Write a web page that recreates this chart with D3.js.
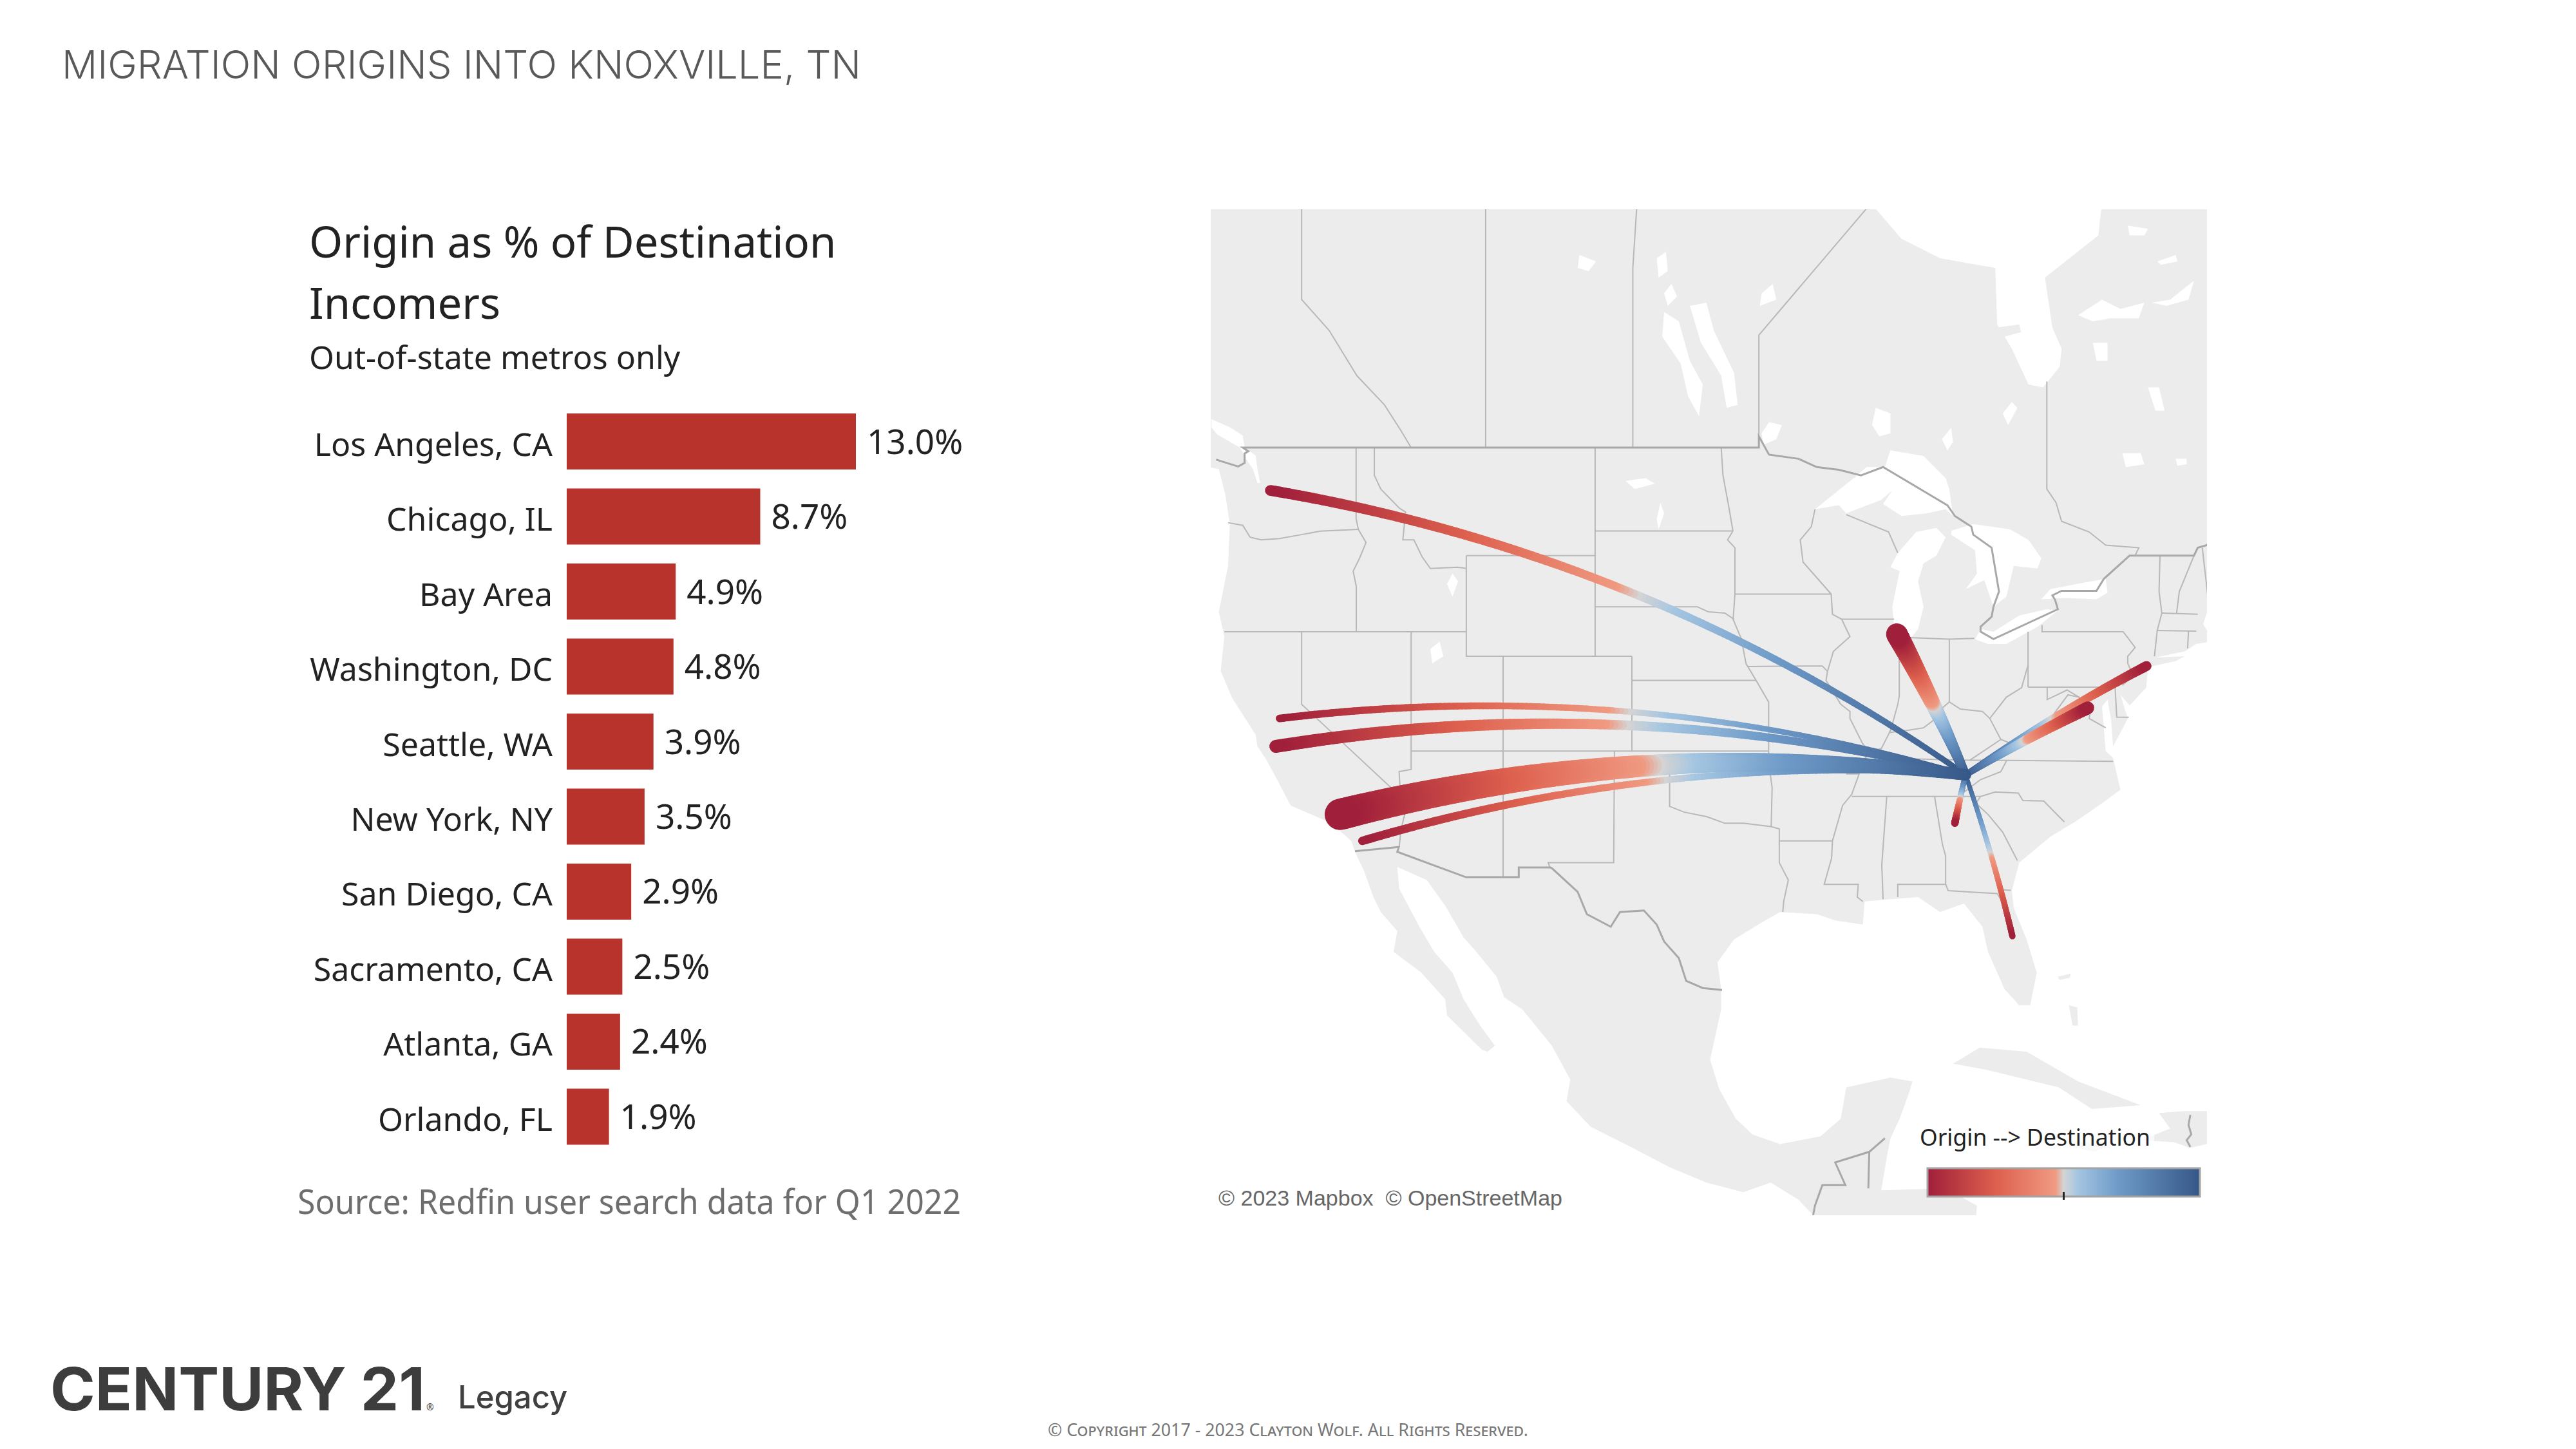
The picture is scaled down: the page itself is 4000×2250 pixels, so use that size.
<!DOCTYPE html>
<html>
<head>
<meta charset="utf-8">
<script src="https://cdn.jsdelivr.net/npm/d3@7"></script>
<style>
  html, body { margin: 0; background: #fff; }
  text { font-family: "Noto Sans", sans-serif; }
</style>
</head>
<body>
<div id="chart"></div>
<script>
// bar data
const metros = ['Los Angeles, CA', 'Chicago, IL', 'Bay Area', 'Washington, DC', 'Seattle, WA', 'New York, NY', 'San Diego, CA', 'Sacramento, CA', 'Atlanta, GA', 'Orlando, FL'];
const shares = [13.0, 8.7, 4.9, 4.8, 3.9, 3.5, 2.9, 2.5, 2.4, 1.9];

// flow origins, same order as metros, [lon, lat]
const origins = [[-117.9, 34.2], [-87.65, 41.9], [-121.4, 37.2], [-77.27, 38.85], [-121.7, 47.45], [-74.08, 40.6], [-116.7, 33.0], [-121.2, 38.4], [-84.5, 33.8], [-81.37, 28.55]];
const destination = [-83.92, 35.96];

// legend colours, position along the flow
const rampStops = [0, 0.25, 0.47, 0.5, 0.55, 0.7, 1];
const rampColors = ['#a01f3a', '#dd5f4d', '#f09a82', '#d4d4d4', '#a5c6e1', '#6e9ac8', '#355788'];

// base map, [lon, lat]
const mainland = [[-140,72],[-95,72],[-94,60],[-92.5,57.2],[-88.8,56.8],[-87.4,55.9],[-85.3,55.3],[-82.3,55.0],[-82.2,53.2],[-81.4,52.4],[-80.5,51.2],[-79.7,51.1],[-78.8,51.8],[-78.7,52.4],[-79.2,53.1],[-79.6,54.7],[-76.7,56],[-76.5,57],[-78,62],[-65,60],[-60,54],[-57,52],[-65,50.2],[-68,49],[-70,47.7],[-70.8,46.95],[-70.2,47.4],[-68,48.7],[-65,49.2],[-64.5,48],[-65,47],[-64.5,46],[-66,45.2],[-67,44.8],[-69,44.1],[-70.2,43.7],[-70.7,43],[-71,42.3],[-70.7,41.95],[-70.2,42.05],[-70,41.7],[-70.6,41.6],[-71.4,41.5],[-72,41.2],[-73.6,40.95],[-72,41],[-72.5,40.8],[-74,40.55],[-74.1,39.7],[-75,38.95],[-75.5,39.4],[-75.1,38.4],[-75.9,37.2],[-76,38.3],[-76.2,39.2],[-76.5,38.9],[-76.4,38],[-76.3,37],[-75.9,36.7],[-75.5,35.3],[-76.5,34.7],[-77.9,33.9],[-79.3,33.2],[-81,32],[-81.4,30.7],[-81.3,29.9],[-80.6,28.4],[-80.05,26.8],[-80.4,25.2],[-81,25.2],[-81.8,26],[-82.7,27.8],[-83,29],[-84,30.1],[-85.3,29.7],[-86.5,30.4],[-88,30.3],[-89.4,30.2],[-89.5,29.1],[-91,29.3],[-92,29.6],[-94,29.7],[-95,29.2],[-96.5,28.4],[-97.4,27.3],[-97.2,26],[-97.2,25],[-97.8,22.5],[-97.3,21],[-96.4,19.5],[-95.5,18.7],[-94,18.2],[-91.8,18.6],[-90.7,19.5],[-90.4,21.1],[-88,21.6],[-86.8,21.4],[-87,20.8],[-87.5,19.5],[-88,18.5],[-88.2,17.5],[-88.5,15.8],[-85,15.9],[-83.3,15],[-83.6,11],[-80,9.2],[-77,8.6],[-80,8],[-85,11],[-88,13.2],[-91,13.9],[-92.2,14.5],[-93,15.3],[-94.5,16.2],[-96,15.7],[-98,16.2],[-100,17],[-102,18],[-104.3,19.1],[-105.6,20.4],[-105.4,21.5],[-106.4,23.2],[-108,25],[-109,25.6],[-109.4,26.6],[-110.6,27.9],[-111.2,28.5],[-112.2,30],[-113.2,31.2],[-114.8,31.8],[-114.7,30.8],[-113.6,29],[-112.8,27.8],[-111.8,26.8],[-111.2,25.5],[-110.3,24.2],[-109.5,23.2],[-109.9,22.9],[-110.2,23],[-112.1,24.7],[-112.2,25.5],[-113.5,26.8],[-115,27.8],[-114.8,28.8],[-115.7,29.7],[-116.1,30.4],[-116.6,31.6],[-117.1,32.5],[-117.3,33],[-118.4,33.8],[-119.2,34.1],[-120.6,34.6],[-121.3,35.7],[-121.9,36.6],[-122.4,37.2],[-122.5,37.7],[-122.9,38.2],[-123.8,39.3],[-124.4,40.4],[-124.2,41.8],[-124.5,42.8],[-124,44.6],[-123.9,46.2],[-124.15,47.3],[-124.5,48.23],[-125.1,48.3],[-130,48.3],[-130,56],[-140,60]];
const cuba = [[-84.6,22.3],[-83.15,23.1],[-80.6,22.9],[-77.8,21.4],[-74.4,20.2],[-77.05,20],[-78.85,21.1],[-82.8,22]];
const hispaniola = [[-74.4,18.4],[-72.6,18.3],[-71.7,18],[-70,18.4],[-68.4,18.6],[-69.9,19.9],[-72,19.9],[-73.4,19.8],[-72.8,19]];
const jamaica = [[-78.3,18.4],[-76.2,18.1],[-76.9,17.8],[-78.3,18.1]];
const andros = [[-78.3,25.2],[-77.85,25.1],[-77.8,24.2],[-78.1,24.2]];
const grandBahama = [[-78.9,26.6],[-78.2,26.75],[-78.25,26.55],[-78.8,26.45]];
const akimiski = [[-82.2,53.1],[-81,53.2],[-80.9,52.95],[-81.8,52.8]];

const superior = [[-92.1,46.75],[-90.8,46.9],[-90.4,46.6],[-88.5,47.1],[-87.9,47.45],[-88.4,46.95],[-87.4,46.5],[-86,46.6],[-85,46.75],[-84.6,46.5],[-84.8,47.5],[-85,47.9],[-86.2,48.7],[-88,48.9],[-88.3,48.3],[-89.3,48.3],[-90,47.9]];
const michigan = [[-87.5,41.65],[-87,41.65],[-86.5,42.1],[-86.2,43],[-86.5,44],[-86.2,44.7],[-85.5,45],[-85,45.7],[-85.5,46.05],[-86.6,45.9],[-87.6,45.1],[-88,44.55],[-87.5,44.4],[-87.9,43],[-87.8,42.2]];
const huron = [[-84.7,45.8],[-83.4,45.2],[-83.3,44.3],[-83.9,43.7],[-82.9,44.05],[-82.4,43],[-81.7,43.4],[-81.3,44.6],[-80,44.5],[-79.8,44.9],[-80.5,45.6],[-81.5,46],[-83.5,46.2],[-84.7,45.95]];
const erie = [[-83.4,41.7],[-82.7,41.5],[-81.7,41.5],[-80,42.2],[-78.9,42.85],[-79.5,42.9],[-81,42.65],[-82.4,42],[-83.1,42.1]];
const ontario = [[-79.8,43.3],[-78.5,43.35],[-76.8,43.3],[-76.2,43.55],[-76.3,44.1],[-77.5,43.95],[-79.3,43.7]];
const winnipeg = [[-96.9,50.4],[-96.3,50.5],[-96.5,51.6],[-97.6,53],[-98,53.9],[-98.9,53.8],[-98.3,52.6],[-97.2,51.5]];
const manitoba = [[-98.4,50.1],[-98.2,51.2],[-98.9,52],[-99.5,53.3],[-100.3,53.6],[-100.4,52.8],[-99.4,51.9],[-99,50.8]];
const nipigon = [[-88.6,49.4],[-88,49.5],[-88,50.2],[-88.8,50.4],[-89,49.8]];
const lakeOfTheWoods = [[-94.9,49.1],[-94.2,49.3],[-93.9,49.8],[-94.6,49.9],[-95,49.5]];
const salishSea = [[-124.9,50],[-123.9,49.72],[-123.2,49.43],[-123.1,49],[-122.5,48.72],[-122.4,48.23],[-122.25,47.72],[-122.4,47.72],[-122.65,48.23],[-123,48.57],[-123.35,49],[-124.6,49.47],[-124.9,49.72]];
const smallLakes = [
  [[-104.9,55.4],[-104,55.2],[-104.4,54.9],[-105,55]],
  [[-100.3,54.2],[-99.9,54.5],[-99.6,54.1],[-100.1,53.8]],
  [[-100.7,55.3],[-100.2,55.5],[-100.1,54.9],[-100.6,54.7]],
  [[-95,54.2],[-94.4,54.5],[-94.2,54],[-95.1,53.8]],
  [[-75.1,56.3],[-74,56.2],[-74.2,56],[-75,56]],
  [[-77.8,53.5],[-76.5,54],[-75.5,53.7],[-74.2,53.9],[-74.5,53.4],[-76,53.4],[-77,53.3]],
  [[-73.8,53.9],[-72.8,54],[-71.5,54.6],[-71.8,54],[-73,53.8]],
  [[-73.5,55.2],[-72.5,55.4],[-72.4,55.2],[-73.3,55.1]],
  [[-77,52.6],[-76.2,52.6],[-76.2,52],[-76.8,52]],
  [[-74,51.1],[-73.4,51.1],[-73.1,50.3],[-73.6,50.3]],
  [[-75.4,48.8],[-74.4,48.8],[-74.2,48.4],[-75.2,48.3]],
  [[-72.5,48.6],[-71.9,48.6],[-71.9,48.4],[-72.4,48.35]],
  [[-81.9,50.2],[-81.4,50.6],[-81.1,50.4],[-81.6,49.8]],
  [[-85.2,49.3],[-84.7,49.7],[-84.6,49.2],[-84.9,48.9]],
  [[-101.3,47.9],[-100.8,47.7],[-101.9,47.5],[-102.4,47.8]],
  [[-100.6,46],[-100.3,46.6],[-100.5,47],[-100.7,46.4]],
  [[-111.8,43.4],[-111.5,44],[-111.8,44.3],[-112.1,43.9]],
  [[-112.9,40.7],[-112.3,41],[-112.5,41.6],[-113,41.3]]
];

// state and province lines, [lon, lat]
const nationalBorders = [
  [[-124.65,48.57],[-123.45,48.32],[-123.1,48.45],[-123.1,48.79],[-122.9,48.87],[-123.2,49],[-95.15,49],[-95.15,49.4],[-94.6,48.75],[-93,48.6],[-92,48.3],[-90.8,48.2],[-89.6,48],[-88.4,48.3],[-84.9,46.9],[-84.5,46.5],[-83.6,46.1],[-83.5,45.8],[-82.5,45.3],[-82.1,43.6],[-82.4,43],[-82.5,42.6],[-83.1,42.2],[-83.1,42],[-82.4,41.7],[-78.9,42.9],[-79.05,43.27],[-79.2,43.45],[-78.7,43.63],[-76.8,43.63],[-76.4,44.1],[-75,45],[-74.7,45],[-71.5,45],[-71.3,45.3],[-70.8,45.4],[-70.3,45.9]],
  [[-117.1,32.53],[-114.72,32.72],[-114.8,32.5],[-111.07,31.33],[-108.2,31.33],[-108.2,31.78],[-106.5,31.78],[-106.4,31.75],[-105,30.65],[-104.5,29.6],[-103.2,29],[-102.7,29.7],[-101.4,29.77],[-100.7,29.1],[-100.3,28.3],[-99.5,27.5],[-99.1,26.4],[-98.2,26.05],[-97.15,25.95]],
  [[-92.2,14.5],[-92.1,15],[-91.7,16.07],[-90.45,16.07],[-91,17.25],[-89.15,17.8],[-88.3,18.5]],
  [[-89.15,17.8],[-89.2,15.9]],
  [[-71.7,19.7],[-71.8,19.2],[-71.65,18.7],[-71.9,18.4],[-71.7,18.05]]
];
const provinceLines = [
  [[-120,60],[-120,54],[-118.5,53],[-117,51.5],[-115.5,50.5],[-114.6,49.6],[-114.05,49]],
  [[-110,60],[-110,49]],
  [[-101.4,60],[-102,55],[-102,49]],
  [[-95.15,49],[-95.15,52.85],[-89,57]],
  [[-79.5,51.3],[-79.5,47.5],[-79,47],[-78.7,46.3],[-77.2,45.9],[-76.3,45.4],[-74.5,45.3],[-74.7,45]]
];
const stateLines = [
  [[-124,46.25],[-123.2,46.15],[-122.8,45.7],[-122.2,45.6],[-121.2,45.65],[-120,45.8],[-119,45.93],[-116.92,46]],
  [[-117.04,49],[-117.04,46.4],[-116.92,46],[-116.5,45.5],[-116.85,44.9],[-117.2,44.4],[-117.03,43.8],[-117.03,42]],
  [[-124.2,42],[-111.05,42]],
  [[-120,42],[-120,39],[-114.63,35],[-114.4,34.2],[-114.6,33.5],[-114.7,32.72]],
  [[-114.05,42],[-114.05,36.2],[-114.7,36.1],[-114.63,35]],
  [[-116.05,49],[-116.05,48],[-115.7,47.5],[-114.7,46.8],[-114.35,46.65],[-114.5,45.6],[-113.9,45.6],[-113.45,44.95],[-113,44.5],[-111.5,44.55],[-111.05,44.5]],
  [[-111.05,45],[-111.05,41],[-109.05,41],[-109.05,31.33]],
  [[-114.05,37],[-94.62,37]],
  [[-111.05,45],[-104.05,45]],
  [[-109.05,41],[-102.05,41]],
  [[-104.05,49],[-104.05,41]],
  [[-104.05,45.94],[-96.56,45.94]],
  [[-104.05,43],[-98.5,43],[-97.9,42.8],[-97,42.75],[-96.5,42.5]],
  [[-102.05,41],[-102.05,37]],
  [[-102.05,40],[-95.3,40]],
  [[-103,37],[-103.04,32],[-106.6,32],[-106.5,31.78]],
  [[-103,36.5],[-100,36.5],[-100,34.56],[-99.2,34.3],[-98,34.1],[-97,33.8],[-96,33.8],[-94.5,33.65],[-94.04,33.55],[-94.04,32],[-93.55,31.2],[-93.8,30.2],[-93.85,29.7]],
  [[-94.62,37],[-94.62,36.5],[-94.43,35.4],[-94.48,33.65]],
  [[-94.04,33],[-91.15,33]],
  [[-97.2,49],[-97.1,48],[-96.8,46.9],[-96.56,45.94],[-96.85,45.6],[-96.45,45.3],[-96.45,43.5],[-96.55,42.5],[-96.1,41.7],[-95.85,40.7],[-95.3,40],[-94.62,39.1],[-94.62,37]],
  [[-96.45,43.5],[-91.22,43.5]],
  [[-95.77,40.58],[-91.7,40.6],[-91.42,40.38]],
  [[-92.1,46.75],[-92.3,46.1],[-92.9,45.6],[-92.75,44.75],[-91.22,43.5],[-91.15,42.7],[-90.65,42.5],[-90.2,41.8],[-91.1,41.2],[-91.42,40.38],[-91.5,40],[-90.7,39],[-90.2,38.7],[-90.2,38.4],[-89.5,37.3],[-89.15,37],[-89.5,36.5],[-89.7,36],[-90.1,35.1],[-90.6,34.6],[-91.15,33],[-91.2,32.2],[-91.6,31],[-89.75,31],[-89.8,30.4],[-89.5,30.2]],
  [[-94.62,36.5],[-90.15,36.5],[-90.37,36],[-89.7,36]],
  [[-90.65,42.5],[-87.8,42.5]],
  [[-90.4,46.55],[-88.1,45.9],[-87.6,45.1]],
  [[-87.52,41.7],[-87.52,39.35],[-87.6,39],[-87.95,38],[-88.05,37.8]],
  [[-89.15,37],[-88.5,37.1],[-88.05,37.8],[-87,37.9],[-86.2,38],[-85.7,38.3],[-85.4,38.7],[-84.8,39.1],[-84.2,38.8],[-83,38.7],[-82.6,38.4],[-82,39],[-81.7,39.3],[-80.87,39.7],[-80.52,40.64],[-80.52,42]],
  [[-84.8,39.1],[-84.8,41.7]],
  [[-87,41.76],[-84.8,41.7],[-83.45,41.73]],
  [[-79.76,42.27],[-79.76,42],[-75.35,42],[-74.7,41.36],[-75.1,41],[-75.1,40.7],[-74.8,40.2],[-75.4,39.8]],
  [[-80.52,39.72],[-75.79,39.72],[-75.7,38.46],[-75.05,38.45]],
  [[-80.52,40.64],[-80.52,39.72]],
  [[-79.48,39.72],[-79.48,39.2],[-78.4,39.6],[-77.75,39.3]],
  [[-82.6,38.4],[-82,37.5],[-81.2,37.25],[-80.3,37.5],[-79.3,38.4],[-78.35,39.4],[-77.75,39.3],[-77.1,38.9],[-77.2,38.4],[-76.3,38]],
  [[-83.68,36.6],[-82,37.5]],
  [[-89.5,36.5],[-88.07,36.5],[-88.07,36.68],[-83.68,36.6],[-81.68,36.59],[-75.9,36.55]],
  [[-81.68,36.59],[-82,36.1],[-83.1,35.75],[-84.32,35]],
  [[-90.1,35],[-83.1,35]],
  [[-88.2,35],[-88.47,31.9],[-88.4,30.3]],
  [[-85.6,35],[-85.18,32.87],[-85,32.3],[-85,31],[-84.86,30.7],[-82.2,30.57],[-82.05,30.36],[-81.95,30.75],[-81.45,30.72]],
  [[-87.6,30.4],[-87.6,31],[-85,31]],
  [[-83.1,35],[-83.35,34.7],[-82.7,34.2],[-81.9,33.4],[-81.1,32.1]],
  [[-83.1,35],[-82.3,35.2],[-81.05,35.15],[-80.8,34.82],[-79.67,34.8],[-78.55,33.86]],
  [[-73.35,45],[-73.4,43.6],[-73.25,42.75],[-73.5,42.05],[-73.65,41]],
  [[-71.5,45],[-72.3,43.6],[-72.45,42.73]],
  [[-73.25,42.75],[-71.3,42.7]],
  [[-73.5,42.05],[-71.38,42.02]],
  [[-71.8,42.02],[-71.85,41.32]],
  [[-71.05,45.3],[-70.7,43.1]]
];

const width = 4000, height = 2250;

const svg = d3.select('#chart')
    .append('svg')
    .attr('width', width)
    .attr('height', height);

// Header and footer
svg.append('text')
    .attr('x', 96).attr('y', 122)
    .attr('font-size', 60).attr('font-weight', 300)
    .attr('fill', '#595959')
    .attr('textLength', 1241).attr('lengthAdjust', 'spacingAndGlyphs')
    .style('font-family', 'Inter')
    .text('MIGRATION ORIGINS INTO KNOXVILLE, TN');

svg.append('text')
    .attr('x', 78).attr('y', 2190)
    .attr('font-size', 92).attr('font-weight', 700)
    .attr('fill', '#3d3d3d')
    .attr('textLength', 582).attr('lengthAdjust', 'spacingAndGlyphs')
    .style('font-family', 'Inter')
    .text('CENTURY 21');

svg.append('text')
    .attr('x', 662).attr('y', 2190)
    .attr('font-size', 14)
    .attr('fill', '#3d3d3d')
    .text('®');

svg.append('text')
    .attr('x', 711).attr('y', 2187)
    .attr('font-size', 49).attr('font-weight', 500)
    .attr('fill', '#404040')
    .style('font-family', 'Inter')
    .text('Legacy');

svg.append('text')
    .attr('x', 1627).attr('y', 2230)
    .attr('font-size', 27)
    .attr('fill', '#777')
    .attr('textLength', 746).attr('lengthAdjust', 'spacingAndGlyphs')
    .style('font-variant', 'small-caps')
    .text('© Copyright 2017 - 2023 Clayton Wolf. All Rights Reserved.');

// Bar chart titles
const titleLines = [['Origin as % of Destination', 400, 67], ['Incomers', 495, 67], ['Out-of-state metros only', 573, 50]];
svg.selectAll('.title')
    .data(titleLines)
    .join('text')
    .attr('class', 'title')
    .attr('x', 480)
    .attr('y', d => d[1])
    .attr('font-size', d => d[2])
    .attr('fill', '#222')
    .text(d => d[0]);

// Bars
const xScale = d3.scaleLinear().domain([0, 13]).range([880, 1329]);
const yScale = d3.scaleBand().domain(metros).range([642, 1777.5]).paddingInner(0.253);

svg.selectAll('.bar')
    .data(metros)
    .join('rect')
    .attr('class', 'bar')
    .attr('x', xScale(0))
    .attr('y', d => yScale(d))
    .attr('width', (d, i) => xScale(shares[i]) - xScale(0))
    .attr('height', yScale.bandwidth())
    .attr('fill', '#b7332c');

const yAxis = svg.append('g')
    .attr('transform', `translate(${xScale(0)},0)`)
    .call(d3.axisLeft(yScale).tickSize(0).tickPadding(22));
yAxis.select('.domain').remove();
yAxis.selectAll('text')
    .attr('font-size', 50)
    .attr('fill', '#222')
    .attr('dy', 22)
    .style('font-family', '"Noto Sans", sans-serif');

svg.selectAll('.value')
    .data(metros)
    .join('text')
    .attr('class', 'value')
    .attr('x', (d, i) => xScale(shares[i]) + 17)
    .attr('y', d => yScale(d) + yScale.bandwidth() / 2 + 19)
    .attr('font-size', 53)
    .attr('fill', '#222')
    .text((d, i) => shares[i].toFixed(1) + '%');

svg.append('text')
    .attr('x', 462).attr('y', 1885)
    .attr('font-size', 52)
    .attr('fill', '#6e6e6e')
    .attr('textLength', 1030).attr('lengthAdjust', 'spacingAndGlyphs')
    .text('Source: Redfin user search data for Q1 2022');

// Map
const panel = { x: 1880, y: 325, w: 1547, h: 1562 };
const projection = d3.geoMercator().scale(1637).translate([5449.7, 2305.5]);
const geoLine = d3.line().x(d => projection(d)[0]).y(d => projection(d)[1]);

svg.append('clipPath').attr('id', 'panel')
    .append('rect')
    .attr('x', panel.x).attr('y', panel.y)
    .attr('width', panel.w).attr('height', panel.h);

const map = svg.append('g').attr('clip-path', 'url(#panel)');

map.selectAll('.land')
    .data([mainland, cuba, hispaniola, jamaica, andros, grandBahama, akimiski])
    .join('path')
    .attr('class', 'land')
    .attr('d', d => geoLine(d) + 'Z')
    .attr('fill', '#ececec');

map.selectAll('.lake')
    .data([superior, michigan, huron, erie, ontario, winnipeg, manitoba, nipigon, lakeOfTheWoods, salishSea, ...smallLakes])
    .join('path')
    .attr('class', 'lake')
    .attr('d', d => geoLine(d) + 'Z')
    .attr('fill', '#fff');

map.selectAll('.state')
    .data([...stateLines, ...provinceLines])
    .join('path')
    .attr('class', 'state')
    .attr('d', geoLine)
    .attr('fill', 'none')
    .attr('stroke', '#b8b8b8')
    .attr('stroke-width', 2);

map.selectAll('.nation')
    .data(nationalBorders)
    .join('path')
    .attr('class', 'nation')
    .attr('d', geoLine)
    .attr('fill', 'none')
    .attr('stroke', '#a8a8a8')
    .attr('stroke-width', 3);

// Flows: tapered bands, coloured by position from origin to destination
const rampColor = d3.scaleLinear().domain(rampStops).range(rampColors);
const originWidth = d3.scaleLinear().domain([0, 13]).range([3, 48.5]);
const steps = d3.range(0, 1.0001, 1 / 160);

function flowPoints(origin) {
    const a = projection(origin);
    const b = projection(destination);
    const dx = b[0] - a[0], dy = b[1] - a[1];
    const chord = Math.hypot(dx, dy);
    // curve bulges north and grows with the length of the flow
    const bulge = chord * chord * 4.8e-5;
    const sign = dx >= 0 ? 1 : -1;
    const cx = (a[0] + b[0]) / 2 + sign * (dy / chord) * 2 * bulge;
    const cy = (a[1] + b[1]) / 2 - sign * (dx / chord) * 2 * bulge;
    return steps.map(t => ({
        t: t,
        x: (1 - t) * (1 - t) * a[0] + 2 * t * (1 - t) * cx + t * t * b[0],
        y: (1 - t) * (1 - t) * a[1] + 2 * t * (1 - t) * cy + t * t * b[1]
    }));
}

const flowOrder = d3.range(metros.length).sort((a, b) => shares[a] - shares[b]);

flowOrder.forEach(i => {
    const pts = flowPoints(origins[i]);
    const w0 = originWidth(shares[i]);
    const taper = d3.scaleLinear().domain([0, 1]).range([w0, w0 * 0.28 + 4]);
    map.append('g')
        .attr('class', 'flow')
        .selectAll('line')
        .data(d3.pairs(pts).reverse())
        .join('line')
        .attr('x1', d => d[0].x).attr('y1', d => d[0].y)
        .attr('x2', d => d[1].x).attr('y2', d => d[1].y)
        .attr('stroke', d => rampColor(d[0].t))
        .attr('stroke-width', d => taper(d[0].t))
        .attr('stroke-linecap', 'round');
});

// Attribution
map.append('rect')
    .attr('x', 1885).attr('y', 1836)
    .attr('width', 545).attr('height', 51)
    .attr('fill', '#fff').attr('opacity', 0.55);
svg.append('text')
    .attr('x', 1892).attr('y', 1872)
    .attr('font-size', 34)
    .attr('fill', '#666')
    .attr('xml:space', 'preserve')
    .style('font-family', '"Liberation Sans"')
    .style('white-space', 'pre')
    .text('© 2023 Mapbox  © OpenStreetMap');

// Legend
const legend = { x: 2993, y: 1814, w: 423, h: 44 };
const gradient = svg.append('defs').append('linearGradient').attr('id', 'ramp');
gradient.selectAll('stop')
    .data(rampStops)
    .join('stop')
    .attr('offset', d => d)
    .attr('stop-color', (d, i) => rampColors[i]);

svg.append('rect')
    .attr('x', 2975).attr('y', 1745)
    .attr('width', 370).attr('height', 48)
    .attr('fill', '#fff').attr('opacity', 0.7);

svg.append('text')
    .attr('x', 2981).attr('y', 1779)
    .attr('font-size', 37)
    .attr('fill', '#222')
    .attr('textLength', 358).attr('lengthAdjust', 'spacingAndGlyphs')
    .text('Origin --> Destination');

svg.append('rect')
    .attr('x', legend.x).attr('y', legend.y)
    .attr('width', legend.w).attr('height', legend.h)
    .attr('fill', 'url(#ramp)')
    .attr('stroke', '#a3a3a3')
    .attr('stroke-width', 3);

svg.append('line')
    .attr('x1', legend.x + legend.w * 0.5).attr('x2', legend.x + legend.w * 0.5)
    .attr('y1', 1851).attr('y2', 1863)
    .attr('stroke', '#222')
    .attr('stroke-width', 3);
</script>
</body>
</html>
